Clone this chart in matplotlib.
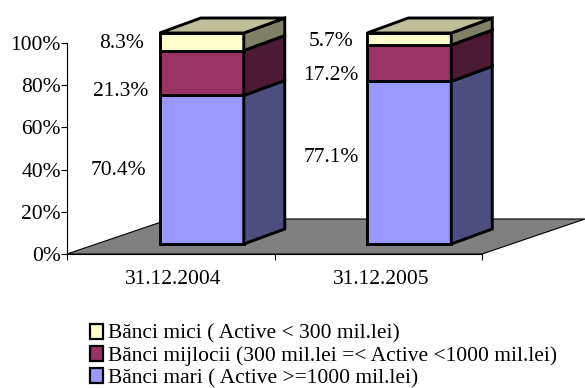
import matplotlib
matplotlib.use("Agg")
import matplotlib.pyplot as plt
from matplotlib.patches import Polygon, Patch
from matplotlib.transforms import Affine2D

plt.rcParams['font.family'] = ['Liberation Serif', 'DejaVu Serif']

categories = ['31.12.2004', '31.12.2005']
mari = [70.4, 77.1]
mijlocii = [21.3, 17.2]
mici = [8.3, 5.7]
series_labels = ['Bănci mici ( Active < 300 mil.lei)',
                 'Bănci mijlocii (300 mil.lei =< Active <1000 mil.lei)',
                 'Bănci mari ( Active >=1000 mil.lei)']
yticks = [0, 20, 40, 60, 80, 100]

W, H = 585, 388
FS = 15.5
fig = plt.figure(figsize=(W / 100, H / 100), dpi=100)
L, R, B, T = 67, 482, 254, 43
ax = fig.add_axes([L / W, 1 - B / H, (R - L) / W, (B - T) / H])
ax.set_xlim(0, 2)
ax.set_ylim(0, 100)
ax.patch.set_visible(False)

FRONT = ['#9999FF', '#993366', '#FFFFCC']
SIDE = ['#4D4D80', '#4D1A33', '#808066']
TOP = '#BFBF99'
EDGE_W = 2.1


def px(dx, dy):
    return ax.transData + Affine2D().translate(dx, dy)


# floor of the 3D chart: front edge on the axis, back edge shifted by the depth
FX, FY = 103, 35
front = ax.transData.transform([(0, 0), (2, 0)])
back = px(FX, FY).transform([(2, 0), (0, 0)])
ax.add_patch(Polygon([*front, *back], closed=True, transform=None, fc='#808080', ec='black',
                     lw=0.8, clip_on=False, zorder=1))

SX, SY = 31, 10      # front-face offset of the bars from the axis plane, pixels
DX, DY = 41, 15      # bar depth, pixels
BW = 0.405           # bar width in category units
t0 = px(SX, SY)
td = px(SX + DX, SY + DY)

for i, cat in enumerate(categories):
    x0 = i + 0.5 - BW / 2
    x1 = i + 0.5 + BW / 2
    base = 0
    for j, vals in enumerate([mari, mijlocii, mici]):
        top = base + vals[i]
        ax.fill([x0, x1, x1, x0], [base, base, top, top], transform=t0,
                fc=FRONT[j], ec='black', lw=EDGE_W, clip_on=False, zorder=3, joinstyle='miter')
        a = t0.transform([(x1, base), (x1, top)])
        b = td.transform([(x1, top), (x1, base)])
        ax.add_patch(Polygon([*a, *b], closed=True, transform=None, fc=SIDE[j], ec='black',
                             lw=EDGE_W, clip_on=False, zorder=3, joinstyle='miter'))
        base = top
    a = t0.transform([(x0, base), (x1, base)])
    b = td.transform([(x1, base), (x0, base)])
    ax.add_patch(Polygon([*a, *b], closed=True, transform=None, fc=TOP, ec='black',
                         lw=EDGE_W, clip_on=False, zorder=3, joinstyle='miter'))

for s in ['top', 'right']:
    ax.spines[s].set_visible(False)
for s in ['left', 'bottom']:
    ax.spines[s].set_linewidth(0.8)
ax.set_yticks(yticks)
ax.set_yticklabels([f'{v}%' for v in yticks], fontsize=FS)
ax.set_xticks([0, 1, 2])
ax.set_xticklabels([])
ax.set_xticks([0.512, 1.512], minor=True)
ax.set_xticklabels(categories, minor=True, fontsize=FS)
ax.tick_params(axis='x', which='major', length=4, width=0.8)
ax.tick_params(axis='x', which='minor', length=0, pad=11.5)
ax.tick_params(axis='y', length=4, width=0.8, pad=0.5)

# data labels
LABEL_PX = [[(118, 170.5), (331, 157)], [(120.5, 91), (331, 75)], [(122, 43), (331, 42)]]
for j, vals in enumerate([mari, mijlocii, mici]):
    for i, v in enumerate(vals):
        x, y = LABEL_PX[j][i]
        fig.text(x / W, 1 - y / H, f'{v}%', ha='center', va='center', fontsize=FS)

handles = [Patch(fc=FRONT[2], ec='black', lw=1.6),
           Patch(fc=FRONT[1], ec='black', lw=1.6),
           Patch(fc=FRONT[0], ec='black', lw=1.6)]
fig.legend(handles, series_labels, loc='upper left', bbox_to_anchor=(90 / W, 1 - 323.5 / H),
           bbox_transform=fig.transFigure, frameon=False, fontsize=FS,
           handlelength=0.62, handleheight=0.7, handletextpad=0.2,
           labelspacing=0.1, borderpad=0, borderaxespad=0)

fig.savefig('out.png', dpi=100)
